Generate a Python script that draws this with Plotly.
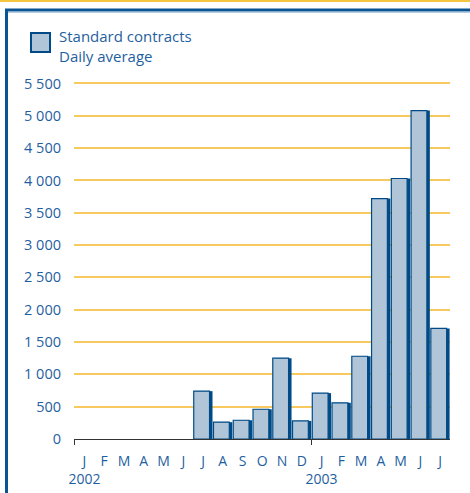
import plotly.graph_objects as go

months = ["J", "F", "M", "A", "M", "J", "J", "A", "S", "O", "N", "D",
          "J", "F", "M", "A", "M", "J", "J"]
years = {0: "2002", 12: "2003"}
values = [None, None, None, None, None, None, 740, 260, 290, 460, 1250, 280,
          710, 560, 1280, 3720, 4030, 5080, 1710]
y_ticks = [0, 500, 1000, 1500, 2000, 2500, 3000, 3500, 4000, 4500, 5000, 5500]
y_ticktext = ["0", "500", "1 000", "1 500", "2 000", "2 500", "3 000", "3 500",
              "4 000", "4 500", "5 000", "5 500"]
legend_text = "Standard contracts<br>Daily average"

TXT = "#1f5f9f"
DARK = "#004b87"
FILL = "#b1c5d9"
GRID = "#f8c95f"
FONT = "Open Sans"

W, H = 470, 493
L, R, T, B = 74, 20, 77, 54
pw, ph = W - L - R, H - T - B


def px_x(p):
    return (p - L) / pw


def px_y(p):
    return (H - B - p) / ph


x = list(range(len(months)))
ticktext = [m + ("<br>" + years[i] if i in years else "<br> ") for i, m in enumerate(months)]

fig = go.Figure()
# shadow (thick right edge)
fig.add_trace(go.Bar(x=x, y=values, width=0.84, offset=-0.36,
                     marker=dict(color=DARK, line=dict(width=0)),
                     showlegend=False, hoverinfo="skip"))
fig.add_trace(go.Bar(x=x, y=values, width=0.8, offset=-0.47,
                     marker=dict(color=FILL, line=dict(color=DARK, width=1.2)),
                     name="Standard contracts", showlegend=False))
# invisible trace to carry boundary ticks
fig.add_trace(go.Scatter(x=[0], y=[0], xaxis="x2", mode="markers",
                         marker=dict(opacity=0), showlegend=False, hoverinfo="skip"))

fig.update_layout(
    width=W, height=H,
    margin=dict(l=L, r=R, t=T, b=B),
    paper_bgcolor="white", plot_bgcolor="white",
    barmode="overlay",
    font=dict(family=FONT, size=13, color=TXT),
    xaxis=dict(range=[-0.53, 18.5], tickmode="array", tickvals=x, ticktext=ticktext,
               ticks="", showgrid=False, zeroline=False, showline=True,
               linecolor="#333333", linewidth=1, ticklabelstandoff=9, tickangle=0,
               automargin=False, tickfont=dict(size=14, color=TXT)),
    xaxis2=dict(range=[-0.53, 18.5], overlaying="x", tickmode="array",
                tickvals=[-0.53, 11.47], ticks="outside", ticklen=5,
                tickcolor="#333333", tickwidth=1, showticklabels=False,
                showgrid=False, zeroline=False, showline=False, automargin=False),
    yaxis=dict(range=[0, 5600], tickmode="array", tickvals=y_ticks, ticktext=y_ticktext,
               showgrid=True, gridcolor=GRID, gridwidth=2, zeroline=False,
               ticks="", ticklabelstandoff=12, automargin=False,
               tickfont=dict(size=14.5, color=TXT)),
    showlegend=False,
)

shapes = [
    dict(type="line", xref="paper", yref="paper", x0=px_x(0), x1=px_x(W),
         y0=px_y(1), y1=px_y(1), line=dict(color="#f5c542", width=2)),
    dict(type="line", xref="paper", yref="paper", x0=px_x(5), x1=px_x(W),
         y0=px_y(10), y1=px_y(10), line=dict(color="#0a5494", width=3)),
    dict(type="line", xref="paper", yref="paper", x0=px_x(5), x1=px_x(W),
         y0=px_y(12.5), y1=px_y(12.5), line=dict(color="#b4cde3", width=1)),
    dict(type="line", xref="paper", yref="paper", x0=px_x(6.5), x1=px_x(6.5),
         y0=px_y(9), y1=px_y(H), line=dict(color="#0a5494", width=3)),
    dict(type="rect", xref="paper", yref="paper", x0=px_x(31), x1=px_x(50),
         y0=px_y(52), y1=px_y(33), fillcolor=FILL, line=dict(color=DARK, width=2)),
]
fig.update_layout(shapes=shapes)
fig.add_annotation(xref="paper", yref="paper", x=px_x(57), y=px_y(46),
                   xanchor="left", yanchor="middle", align="left", showarrow=False,
                   text=legend_text, font=dict(family=FONT, size=15, color=TXT))

fig.write_html("out.html", config={"displayModeBar": False},
               post_script="document.body.style.margin='0';")
